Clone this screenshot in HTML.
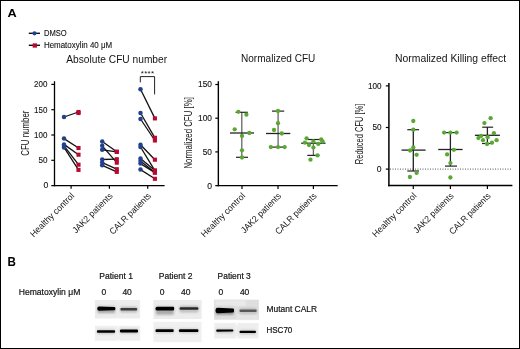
<!DOCTYPE html>
<html><head><meta charset="utf-8"><style>
html,body{margin:0;padding:0;background:#fff;}
#fig{position:relative;width:520px;height:349px;overflow:hidden;background:#fff;}
#fig svg{position:absolute;left:0;top:0;will-change:transform;}
#frame{position:absolute;left:0;top:0;width:518px;height:347px;border:1px solid #000;}
text{font-family:"Liberation Sans", sans-serif;}
</style></head><body>
<div id="fig">
<svg width="520" height="349" viewBox="0 0 520 349">
<text x="7.5" y="16.7" font-size="11.6" text-anchor="start" font-weight="bold" fill="#000" textLength="9.2" lengthAdjust="spacingAndGlyphs" >A</text>
<text x="7.4" y="266.0" font-size="12.8" text-anchor="start" font-weight="bold" fill="#000" textLength="8.4" lengthAdjust="spacingAndGlyphs" >B</text>
<line x1="28.8" y1="33.3" x2="40" y2="33.3" stroke="#111" stroke-width="1.4"/>
<circle cx="34.5" cy="33.3" r="2.1" fill="#22418c"/>
<text x="43.9" y="35.9" font-size="8.8" text-anchor="start" font-weight="normal" fill="#141414" textLength="22.8" lengthAdjust="spacingAndGlyphs" stroke="#141414" stroke-width="0.12">DMSO</text>
<line x1="28.8" y1="45.3" x2="40" y2="45.3" stroke="#111" stroke-width="1.4"/>
<rect x="32.65" y="43.35" width="4.3" height="4.3" fill="#b80a30"/>
<text x="43.9" y="47.8" font-size="8.8" text-anchor="start" font-weight="normal" fill="#141414" textLength="68.3" lengthAdjust="spacingAndGlyphs" stroke="#141414" stroke-width="0.12">Hematoxylin 40 μM</text>
<text x="66.3" y="62.6" font-size="10.3" text-anchor="start" font-weight="normal" fill="#141414" textLength="100.8" lengthAdjust="spacingAndGlyphs" >Absolute CFU number</text>
<line x1="54.5" y1="81.2" x2="54.5" y2="186.3" stroke="#000" stroke-width="1.3"/>
<line x1="51.3" y1="185.6" x2="164.6" y2="185.6" stroke="#000" stroke-width="1.4"/>
<text x="48.3" y="188.4" font-size="8.6" text-anchor="end" font-weight="normal" fill="#141414" stroke="#141414" stroke-width="0.12">0</text>
<line x1="51.3" y1="160.29999999999998" x2="54.5" y2="160.29999999999998" stroke="#000" stroke-width="1.2"/>
<text x="47.4" y="163.1" font-size="8.6" text-anchor="end" font-weight="normal" fill="#141414" textLength="9.0" lengthAdjust="spacingAndGlyphs" stroke="#141414" stroke-width="0.12">50</text>
<line x1="51.3" y1="135.0" x2="54.5" y2="135.0" stroke="#000" stroke-width="1.2"/>
<text x="47.4" y="137.8" font-size="8.6" text-anchor="end" font-weight="normal" fill="#141414" textLength="13.3" lengthAdjust="spacingAndGlyphs" stroke="#141414" stroke-width="0.12">100</text>
<line x1="51.3" y1="109.69999999999999" x2="54.5" y2="109.69999999999999" stroke="#000" stroke-width="1.2"/>
<text x="47.4" y="112.49999999999999" font-size="8.6" text-anchor="end" font-weight="normal" fill="#141414" textLength="13.3" lengthAdjust="spacingAndGlyphs" stroke="#141414" stroke-width="0.12">150</text>
<line x1="51.3" y1="84.39999999999999" x2="54.5" y2="84.39999999999999" stroke="#000" stroke-width="1.2"/>
<text x="47.4" y="87.19999999999999" font-size="8.6" text-anchor="end" font-weight="normal" fill="#141414" textLength="13.3" lengthAdjust="spacingAndGlyphs" stroke="#141414" stroke-width="0.12">200</text>
<line x1="71.1" y1="185.6" x2="71.1" y2="188.8" stroke="#000" stroke-width="1.2"/>
<line x1="109.4" y1="185.6" x2="109.4" y2="188.8" stroke="#000" stroke-width="1.2"/>
<line x1="147.7" y1="185.6" x2="147.7" y2="188.8" stroke="#000" stroke-width="1.2"/>
<polyline points="140.3,82.4 140.3,76.6 154.6,76.6 154.6,94.4" fill="none" stroke="#222" stroke-width="1"/>
<text x="147.6" y="76.4" font-size="8" text-anchor="middle" font-weight="normal" fill="#141414" letter-spacing="0.3">****</text>
<rect x="76.45" y="110.95" width="4.1" height="4.1" fill="#b80a30"/>
<line x1="64.0" y1="117" x2="78.5" y2="112" stroke="#111" stroke-width="1.3"/>
<line x1="64.0" y1="138.6" x2="78.5" y2="148" stroke="#111" stroke-width="1.3"/>
<line x1="64.0" y1="144.4" x2="78.5" y2="154.7" stroke="#111" stroke-width="1.3"/>
<line x1="64.0" y1="145.8" x2="78.5" y2="164.7" stroke="#111" stroke-width="1.3"/>
<line x1="64.0" y1="147.4" x2="78.5" y2="169.9" stroke="#111" stroke-width="1.3"/>
<circle cx="64.0" cy="117" r="2.25" fill="#22418c"/>
<circle cx="64.0" cy="138.6" r="2.25" fill="#22418c"/>
<circle cx="64.0" cy="144.4" r="2.25" fill="#22418c"/>
<circle cx="64.0" cy="145.8" r="2.25" fill="#22418c"/>
<circle cx="64.0" cy="147.4" r="2.25" fill="#22418c"/>
<rect x="76.45" y="109.95" width="4.1" height="4.1" fill="#b80a30"/>
<rect x="76.45" y="145.95" width="4.1" height="4.1" fill="#b80a30"/>
<rect x="76.45" y="152.64999999999998" width="4.1" height="4.1" fill="#b80a30"/>
<rect x="76.45" y="162.64999999999998" width="4.1" height="4.1" fill="#b80a30"/>
<rect x="76.45" y="167.85" width="4.1" height="4.1" fill="#b80a30"/>
<line x1="102.2" y1="141.5" x2="116.8" y2="151.8" stroke="#111" stroke-width="1.3"/>
<line x1="102.2" y1="145.8" x2="116.8" y2="162.7" stroke="#111" stroke-width="1.3"/>
<line x1="102.2" y1="149.8" x2="116.8" y2="151.8" stroke="#111" stroke-width="1.3"/>
<line x1="102.2" y1="159.5" x2="116.8" y2="159.2" stroke="#111" stroke-width="1.3"/>
<line x1="102.2" y1="162.6" x2="116.8" y2="169.2" stroke="#111" stroke-width="1.3"/>
<line x1="102.2" y1="165.3" x2="116.8" y2="171.9" stroke="#111" stroke-width="1.3"/>
<circle cx="102.2" cy="141.5" r="2.25" fill="#22418c"/>
<circle cx="102.2" cy="145.8" r="2.25" fill="#22418c"/>
<circle cx="102.2" cy="149.8" r="2.25" fill="#22418c"/>
<circle cx="102.2" cy="159.5" r="2.25" fill="#22418c"/>
<circle cx="102.2" cy="162.6" r="2.25" fill="#22418c"/>
<circle cx="102.2" cy="165.3" r="2.25" fill="#22418c"/>
<rect x="114.75" y="149.75" width="4.1" height="4.1" fill="#b80a30"/>
<rect x="114.75" y="160.64999999999998" width="4.1" height="4.1" fill="#b80a30"/>
<rect x="114.75" y="149.75" width="4.1" height="4.1" fill="#b80a30"/>
<rect x="114.75" y="157.14999999999998" width="4.1" height="4.1" fill="#b80a30"/>
<rect x="114.75" y="167.14999999999998" width="4.1" height="4.1" fill="#b80a30"/>
<rect x="114.75" y="169.85" width="4.1" height="4.1" fill="#b80a30"/>
<line x1="140.5" y1="89.3" x2="154.9" y2="118.4" stroke="#111" stroke-width="1.3"/>
<line x1="140.5" y1="113" x2="154.9" y2="137.8" stroke="#111" stroke-width="1.3"/>
<line x1="140.5" y1="119" x2="154.9" y2="140.5" stroke="#111" stroke-width="1.3"/>
<line x1="140.5" y1="144.7" x2="154.9" y2="159.7" stroke="#111" stroke-width="1.3"/>
<line x1="140.5" y1="147" x2="154.9" y2="170.6" stroke="#111" stroke-width="1.3"/>
<line x1="140.5" y1="158.4" x2="154.9" y2="170.6" stroke="#111" stroke-width="1.3"/>
<line x1="140.5" y1="161" x2="154.9" y2="172.6" stroke="#111" stroke-width="1.3"/>
<line x1="140.5" y1="163.6" x2="154.9" y2="172.6" stroke="#111" stroke-width="1.3"/>
<line x1="140.5" y1="169.6" x2="154.9" y2="178.8" stroke="#111" stroke-width="1.3"/>
<circle cx="140.5" cy="89.3" r="2.25" fill="#22418c"/>
<circle cx="140.5" cy="113" r="2.25" fill="#22418c"/>
<circle cx="140.5" cy="119" r="2.25" fill="#22418c"/>
<circle cx="140.5" cy="144.7" r="2.25" fill="#22418c"/>
<circle cx="140.5" cy="147" r="2.25" fill="#22418c"/>
<circle cx="140.5" cy="158.4" r="2.25" fill="#22418c"/>
<circle cx="140.5" cy="161" r="2.25" fill="#22418c"/>
<circle cx="140.5" cy="163.6" r="2.25" fill="#22418c"/>
<circle cx="140.5" cy="169.6" r="2.25" fill="#22418c"/>
<rect x="152.85" y="116.35000000000001" width="4.1" height="4.1" fill="#b80a30"/>
<rect x="152.85" y="135.75" width="4.1" height="4.1" fill="#b80a30"/>
<rect x="152.85" y="138.45" width="4.1" height="4.1" fill="#b80a30"/>
<rect x="152.85" y="157.64999999999998" width="4.1" height="4.1" fill="#b80a30"/>
<rect x="152.85" y="168.54999999999998" width="4.1" height="4.1" fill="#b80a30"/>
<rect x="152.85" y="168.54999999999998" width="4.1" height="4.1" fill="#b80a30"/>
<rect x="152.85" y="170.54999999999998" width="4.1" height="4.1" fill="#b80a30"/>
<rect x="152.85" y="170.54999999999998" width="4.1" height="4.1" fill="#b80a30"/>
<rect x="152.85" y="176.75" width="4.1" height="4.1" fill="#b80a30"/>
<text x="0" y="0" font-size="9" text-anchor="end" fill="#141414" textLength="58.4" lengthAdjust="spacingAndGlyphs" transform="translate(70.89999999999999,192.4) rotate(-45) translate(0,5.7)">Healthy control</text>
<text x="0" y="0" font-size="9" text-anchor="end" fill="#141414" textLength="52.8" lengthAdjust="spacingAndGlyphs" transform="translate(109.2,192.4) rotate(-45) translate(0,5.7)">JAK2 patients</text>
<text x="0" y="0" font-size="9" text-anchor="end" fill="#141414" textLength="54.5" lengthAdjust="spacingAndGlyphs" transform="translate(147.5,192.4) rotate(-45) translate(0,5.7)">CALR patients</text>
<text x="0" y="0" font-size="10.6" text-anchor="middle" fill="#141414" textLength="45.2" lengthAdjust="spacingAndGlyphs" transform="translate(29.2,133.2) rotate(-90)">CFU number</text>
<text x="241.0" y="62.0" font-size="10.2" text-anchor="start" font-weight="normal" fill="#141414" textLength="74.3" lengthAdjust="spacingAndGlyphs" >Normalized CFU</text>
<line x1="218.35" y1="81.2" x2="218.35" y2="186.3" stroke="#000" stroke-width="1.4"/>
<line x1="215.3" y1="185.6" x2="337.7" y2="185.6" stroke="#000" stroke-width="1.4"/>
<text x="212.0" y="188.5" font-size="8.6" text-anchor="end" font-weight="normal" fill="#141414" stroke="#141414" stroke-width="0.12">0</text>
<line x1="215.3" y1="151.89999999999998" x2="218.35" y2="151.89999999999998" stroke="#000" stroke-width="1.2"/>
<text x="212.0" y="154.79999999999998" font-size="8.6" text-anchor="end" font-weight="normal" fill="#141414" textLength="9.3" lengthAdjust="spacingAndGlyphs" stroke="#141414" stroke-width="0.12">50</text>
<line x1="215.3" y1="118.19999999999999" x2="218.35" y2="118.19999999999999" stroke="#000" stroke-width="1.2"/>
<text x="212.0" y="121.1" font-size="8.6" text-anchor="end" font-weight="normal" fill="#141414" textLength="14.0" lengthAdjust="spacingAndGlyphs" stroke="#141414" stroke-width="0.12">100</text>
<line x1="215.3" y1="84.49999999999999" x2="218.35" y2="84.49999999999999" stroke="#000" stroke-width="1.2"/>
<text x="212.0" y="87.39999999999999" font-size="8.6" text-anchor="end" font-weight="normal" fill="#141414" textLength="14.0" lengthAdjust="spacingAndGlyphs" stroke="#141414" stroke-width="0.12">150</text>
<line x1="242" y1="185.6" x2="242" y2="189" stroke="#000" stroke-width="1.2"/>
<line x1="278" y1="185.6" x2="278" y2="189" stroke="#000" stroke-width="1.2"/>
<line x1="313.4" y1="185.6" x2="313.4" y2="189" stroke="#000" stroke-width="1.2"/>
<text x="0" y="0" font-size="10.6" text-anchor="middle" fill="#141414" textLength="71.4" lengthAdjust="spacingAndGlyphs" transform="translate(192.2,132.9) rotate(-90)">Normalized CFU [%]</text>
<line x1="241.8" y1="112.3" x2="241.8" y2="157.3" stroke="#666" stroke-width="1.3"/>
<line x1="235.6" y1="112.3" x2="247.8" y2="112.3" stroke="#222" stroke-width="1.2"/>
<line x1="236" y1="157.3" x2="248" y2="157.3" stroke="#222" stroke-width="1.2"/>
<line x1="230" y1="133" x2="254" y2="133" stroke="#222" stroke-width="1.3"/>
<circle cx="238.4" cy="111.8" r="2.15" fill="#5aa833"/>
<circle cx="246.4" cy="114.7" r="2.15" fill="#5aa833"/>
<circle cx="234.7" cy="129.3" r="2.15" fill="#5aa833"/>
<circle cx="249.3" cy="133" r="2.15" fill="#5aa833"/>
<circle cx="242" cy="135.9" r="2.15" fill="#5aa833"/>
<circle cx="242" cy="150.3" r="2.15" fill="#5aa833"/>
<circle cx="242" cy="157.5" r="2.15" fill="#5aa833"/>
<line x1="278.1" y1="111.1" x2="278.1" y2="147.1" stroke="#666" stroke-width="1.3"/>
<line x1="272" y1="111.1" x2="284.2" y2="111.1" stroke="#222" stroke-width="1.2"/>
<line x1="272" y1="147.1" x2="284" y2="147.1" stroke="#222" stroke-width="1.2"/>
<line x1="266" y1="133.5" x2="290.3" y2="133.5" stroke="#222" stroke-width="1.3"/>
<circle cx="278" cy="111" r="2.15" fill="#5aa833"/>
<circle cx="278" cy="123.2" r="2.15" fill="#5aa833"/>
<circle cx="274" cy="130" r="2.15" fill="#5aa833"/>
<circle cx="281.8" cy="133.5" r="2.15" fill="#5aa833"/>
<circle cx="270.8" cy="147.1" r="2.15" fill="#5aa833"/>
<circle cx="278" cy="147.1" r="2.15" fill="#5aa833"/>
<circle cx="284.7" cy="147.1" r="2.15" fill="#5aa833"/>
<line x1="313.4" y1="139.5" x2="313.4" y2="155.4" stroke="#666" stroke-width="1.3"/>
<line x1="307.3" y1="139.5" x2="320.7" y2="139.5" stroke="#222" stroke-width="1.2"/>
<line x1="307.3" y1="155.4" x2="319.5" y2="155.4" stroke="#222" stroke-width="1.2"/>
<line x1="301.2" y1="143.2" x2="325.5" y2="143.2" stroke="#222" stroke-width="1.3"/>
<circle cx="306.6" cy="138.3" r="2.15" fill="#5aa833"/>
<circle cx="321.2" cy="139.5" r="2.15" fill="#5aa833"/>
<circle cx="322.6" cy="141.5" r="2.15" fill="#5aa833"/>
<circle cx="313.4" cy="141.5" r="2.15" fill="#5aa833"/>
<circle cx="304.9" cy="142.7" r="2.15" fill="#5aa833"/>
<circle cx="309" cy="145.1" r="2.15" fill="#5aa833"/>
<circle cx="318.3" cy="143.9" r="2.15" fill="#5aa833"/>
<circle cx="313.4" cy="147.6" r="2.15" fill="#5aa833"/>
<circle cx="317.5" cy="155.4" r="2.15" fill="#5aa833"/>
<circle cx="310.5" cy="159.7" r="2.15" fill="#5aa833"/>
<text x="0" y="0" font-size="9" text-anchor="end" fill="#141414" textLength="58.4" lengthAdjust="spacingAndGlyphs" transform="translate(241.8,192.4) rotate(-45) translate(0,5.7)">Healthy control</text>
<text x="0" y="0" font-size="9" text-anchor="end" fill="#141414" textLength="52.8" lengthAdjust="spacingAndGlyphs" transform="translate(277.8,192.4) rotate(-45) translate(0,5.7)">JAK2 patients</text>
<text x="0" y="0" font-size="9" text-anchor="end" fill="#141414" textLength="54.5" lengthAdjust="spacingAndGlyphs" transform="translate(313.2,192.4) rotate(-45) translate(0,5.7)">CALR patients</text>
<text x="395" y="62.0" font-size="10.2" text-anchor="start" font-weight="normal" fill="#141414" textLength="111.2" lengthAdjust="spacingAndGlyphs" >Normalized Killing effect</text>
<line x1="388.9" y1="83.0" x2="388.9" y2="186.2" stroke="#000" stroke-width="1.5"/>
<line x1="388.2" y1="185.5" x2="512.4" y2="185.5" stroke="#000" stroke-width="1.4"/>
<line x1="385.8" y1="169.1" x2="388.9" y2="169.1" stroke="#000" stroke-width="1.2"/>
<text x="381.6" y="172.0" font-size="8.6" text-anchor="end" font-weight="normal" fill="#141414" stroke="#141414" stroke-width="0.12">0</text>
<line x1="385.8" y1="127.5" x2="388.9" y2="127.5" stroke="#000" stroke-width="1.2"/>
<text x="381.6" y="130.4" font-size="8.6" text-anchor="end" font-weight="normal" fill="#141414" textLength="9.1" lengthAdjust="spacingAndGlyphs" stroke="#141414" stroke-width="0.12">50</text>
<line x1="385.8" y1="85.89999999999999" x2="388.9" y2="85.89999999999999" stroke="#000" stroke-width="1.2"/>
<text x="381.6" y="88.8" font-size="8.6" text-anchor="end" font-weight="normal" fill="#141414" textLength="13.6" lengthAdjust="spacingAndGlyphs" stroke="#141414" stroke-width="0.12">100</text>
<line x1="413.3" y1="185.5" x2="413.3" y2="189" stroke="#000" stroke-width="1.2"/>
<line x1="450.4" y1="185.5" x2="450.4" y2="189" stroke="#000" stroke-width="1.2"/>
<line x1="487.4" y1="185.5" x2="487.4" y2="189" stroke="#000" stroke-width="1.2"/>
<line x1="390" y1="169.1" x2="511" y2="169.1" stroke="#555" stroke-width="1" stroke-dasharray="1 1.5"/>
<text x="0" y="0" font-size="10.6" text-anchor="middle" fill="#141414" textLength="60.6" lengthAdjust="spacingAndGlyphs" transform="translate(362.8,133.9) rotate(-90)">Reduced CFU [%]</text>
<line x1="413.3" y1="129.7" x2="413.3" y2="171" stroke="#222" stroke-width="1.3"/>
<line x1="407.3" y1="129.7" x2="419.1" y2="129.7" stroke="#222" stroke-width="1.2"/>
<line x1="407.3" y1="171" x2="419" y2="171" stroke="#222" stroke-width="1.2"/>
<line x1="401.5" y1="150.1" x2="425.6" y2="150.1" stroke="#222" stroke-width="1.3"/>
<circle cx="413.3" cy="121" r="2.15" fill="#5aa833"/>
<circle cx="413.3" cy="129.7" r="2.15" fill="#5aa833"/>
<circle cx="413.3" cy="147.5" r="2.15" fill="#5aa833"/>
<circle cx="410.1" cy="150.5" r="2.15" fill="#5aa833"/>
<circle cx="416.6" cy="154.8" r="2.15" fill="#5aa833"/>
<circle cx="416.6" cy="172.9" r="2.15" fill="#5aa833"/>
<circle cx="409.9" cy="177" r="2.15" fill="#5aa833"/>
<line x1="450.4" y1="132.6" x2="450.4" y2="166.1" stroke="#222" stroke-width="1.3"/>
<line x1="445" y1="132.6" x2="457.2" y2="132.6" stroke="#222" stroke-width="1.2"/>
<line x1="445" y1="166.1" x2="457" y2="166.1" stroke="#222" stroke-width="1.2"/>
<line x1="438.2" y1="149.5" x2="462.6" y2="149.5" stroke="#222" stroke-width="1.3"/>
<circle cx="444.1" cy="132.6" r="2.15" fill="#5aa833"/>
<circle cx="450.4" cy="132.6" r="2.15" fill="#5aa833"/>
<circle cx="456.6" cy="132.6" r="2.15" fill="#5aa833"/>
<circle cx="453.9" cy="149.8" r="2.15" fill="#5aa833"/>
<circle cx="447.1" cy="154.4" r="2.15" fill="#5aa833"/>
<circle cx="450.4" cy="163.1" r="2.15" fill="#5aa833"/>
<circle cx="450.4" cy="177.5" r="2.15" fill="#5aa833"/>
<line x1="487.4" y1="127.2" x2="487.4" y2="143.5" stroke="#222" stroke-width="1.3"/>
<line x1="482.2" y1="127.2" x2="493.1" y2="127.2" stroke="#222" stroke-width="1.2"/>
<line x1="482" y1="143.5" x2="493" y2="143.5" stroke="#222" stroke-width="1.2"/>
<line x1="474.9" y1="135.3" x2="499.9" y2="135.3" stroke="#222" stroke-width="1.3"/>
<circle cx="490.6" cy="118.2" r="2.15" fill="#5aa833"/>
<circle cx="484.4" cy="123.1" r="2.15" fill="#5aa833"/>
<circle cx="493.9" cy="133.2" r="2.15" fill="#5aa833"/>
<circle cx="481.1" cy="135.9" r="2.15" fill="#5aa833"/>
<circle cx="487.6" cy="137.2" r="2.15" fill="#5aa833"/>
<circle cx="478.4" cy="138.1" r="2.15" fill="#5aa833"/>
<circle cx="483" cy="140.2" r="2.15" fill="#5aa833"/>
<circle cx="496.6" cy="140.2" r="2.15" fill="#5aa833"/>
<circle cx="487.1" cy="144" r="2.15" fill="#5aa833"/>
<circle cx="492" cy="142.7" r="2.15" fill="#5aa833"/>
<text x="0" y="0" font-size="9" text-anchor="end" fill="#141414" textLength="58.4" lengthAdjust="spacingAndGlyphs" transform="translate(413.1,192.4) rotate(-45) translate(0,5.7)">Healthy control</text>
<text x="0" y="0" font-size="9" text-anchor="end" fill="#141414" textLength="52.8" lengthAdjust="spacingAndGlyphs" transform="translate(450.2,192.4) rotate(-45) translate(0,5.7)">JAK2 patients</text>
<text x="0" y="0" font-size="9" text-anchor="end" fill="#141414" textLength="54.5" lengthAdjust="spacingAndGlyphs" transform="translate(487.2,192.4) rotate(-45) translate(0,5.7)">CALR patients</text>
<text x="99.3" y="279.2" font-size="8.5" text-anchor="start" font-weight="normal" fill="#141414" textLength="33.7" lengthAdjust="spacingAndGlyphs" stroke="#141414" stroke-width="0.2">Patient 1</text>
<text x="158.7" y="279.2" font-size="8.5" text-anchor="start" font-weight="normal" fill="#141414" textLength="33.7" lengthAdjust="spacingAndGlyphs" stroke="#141414" stroke-width="0.2">Patient 2</text>
<text x="217.6" y="279.2" font-size="8.5" text-anchor="start" font-weight="normal" fill="#141414" textLength="33.2" lengthAdjust="spacingAndGlyphs" stroke="#141414" stroke-width="0.2">Patient 3</text>
<text x="18.7" y="295.4" font-size="8.5" text-anchor="start" font-weight="normal" fill="#141414" textLength="61.6" lengthAdjust="spacingAndGlyphs" stroke="#141414" stroke-width="0.2">Hematoxylin μM</text>
<text x="101.5" y="295.3" font-size="8.5" text-anchor="start" font-weight="normal" fill="#141414" stroke="#141414" stroke-width="0.2">0</text>
<text x="122.4" y="295.3" font-size="8.5" text-anchor="start" font-weight="normal" fill="#141414" stroke="#141414" stroke-width="0.2">40</text>
<text x="159.8" y="295.3" font-size="8.5" text-anchor="start" font-weight="normal" fill="#141414" stroke="#141414" stroke-width="0.2">0</text>
<text x="181.0" y="295.3" font-size="8.5" text-anchor="start" font-weight="normal" fill="#141414" stroke="#141414" stroke-width="0.2">40</text>
<text x="218.6" y="295.3" font-size="8.5" text-anchor="start" font-weight="normal" fill="#141414" stroke="#141414" stroke-width="0.2">0</text>
<text x="239.9" y="295.3" font-size="8.5" text-anchor="start" font-weight="normal" fill="#141414" stroke="#141414" stroke-width="0.2">40</text>
<text x="266.5" y="311.9" font-size="8.5" text-anchor="start" font-weight="normal" fill="#141414" textLength="50.5" lengthAdjust="spacingAndGlyphs" stroke="#141414" stroke-width="0.2">Mutant CALR</text>
<text x="266.5" y="333.2" font-size="8.5" text-anchor="start" font-weight="normal" fill="#141414" textLength="25.8" lengthAdjust="spacingAndGlyphs" stroke="#141414" stroke-width="0.2">HSC70</text>
<defs><filter id="bl" x="-20%" y="-100%" width="140%" height="300%"><feGaussianBlur stdDeviation="0.7"/></filter><filter id="bl2" x="-20%" y="-50%" width="140%" height="200%"><feGaussianBlur stdDeviation="1.2"/></filter></defs>
<defs><filter id="bl" x="-20%" y="-100%" width="140%" height="300%"><feGaussianBlur stdDeviation="0.95"/></filter><filter id="bs" x="-20%" y="-100%" width="140%" height="300%"><feGaussianBlur stdDeviation="1.3"/></filter><filter id="bg" x="-10%" y="-20%" width="120%" height="140%"><feGaussianBlur stdDeviation="0.6"/></filter></defs>
<rect x="94.9" y="300.0" width="45.19999999999999" height="18.399999999999977" fill="#ececec" opacity="1" filter="url(#bg)"/>
<rect x="117.8" y="299.5" width="1.0" height="2.5" fill="#f8f8f8" opacity="1" filter="url(#bg)"/>
<rect x="117.8" y="316.5" width="1.0" height="2.5" fill="#f8f8f8" opacity="1" filter="url(#bg)"/>
<rect x="94.9" y="325.8" width="45.29999999999998" height="15.0" fill="#f0f0f0" opacity="1" filter="url(#bg)"/>
<rect x="117.4" y="325.3" width="1.5999999999999943" height="2.1999999999999886" fill="#fafafa" opacity="1" filter="url(#bg)"/>
<rect x="117.4" y="339.0" width="1.5999999999999943" height="2.3000000000000114" fill="#fafafa" opacity="1" filter="url(#bg)"/>
<rect x="97.0" y="305.5" width="18.6" height="6.2" rx="2" fill="#d0d0d0" filter="url(#bs)"/>
<rect x="97.8" y="308.6" width="17.0" height="4.5" fill="#aaa" filter="url(#bs)"/>
<path d="M99.085,306.5 L114.3,306.90000000000003 Q115.3,306.90000000000003 115.3,307.90000000000003 L115.3,309.3 Q115.3,310.3 114.3,310.3 L99.085,310.70000000000005 Q97.3,310.70000000000005 97.3,308.915 L97.3,308.285 Q97.3,306.5 99.085,306.5 Z" fill="#000" filter="url(#bl)"/>
<rect x="120.10000000000001" y="306.8" width="17.399999999999984" height="5.0" rx="2" fill="#b8b8b8" filter="url(#bs)"/>
<rect x="120.9" y="309.3" width="15.799999999999983" height="3" fill="#c4c4c4" filter="url(#bs)"/>
<path d="M121.42,308.1 L136.2,308.1 Q137.2,308.1 137.2,309.1 L137.2,309.5 Q137.2,310.5 136.2,310.5 L121.42,310.5 Q120.4,310.5 120.4,309.48 L120.4,309.12 Q120.4,308.1 121.42,308.1 Z" fill="#3a3a3a" filter="url(#bl)"/>
<rect x="96.60000000000001" y="329.2" width="18.79999999999999" height="4.6" rx="2" fill="#d0d0d0" filter="url(#bs)"/>
<rect x="97.4" y="331.5" width="17.19999999999999" height="2" fill="#c8c8c8" filter="url(#bs)"/>
<path d="M98.00500000000001,330.2 L114.1,330.2 Q115.1,330.2 115.1,331.2 L115.1,331.8 Q115.1,332.8 114.1,332.8 L98.00500000000001,332.8 Q96.9,332.8 96.9,331.695 L96.9,331.305 Q96.9,330.2 98.00500000000001,330.2 Z" fill="#000" filter="url(#bl)"/>
<rect x="119.60000000000001" y="328.6" width="18.699999999999996" height="4.8" rx="2" fill="#d0d0d0" filter="url(#bs)"/>
<rect x="120.4" y="331.0" width="17.099999999999994" height="2" fill="#c8c8c8" filter="url(#bs)"/>
<path d="M121.09,329.6 L137.0,329.6 Q138.0,329.6 138.0,330.6 L138.0,331.4 Q138.0,332.4 137.0,332.4 L121.09,332.4 Q119.9,332.4 119.9,331.21 L119.9,330.79 Q119.9,329.6 121.09,329.6 Z" fill="#000" filter="url(#bl)"/>
<rect x="153.4" y="300.0" width="48.19999999999999" height="19.0" fill="#ececec" opacity="1" filter="url(#bg)"/>
<rect x="153.4" y="321.8" width="48.19999999999999" height="20.399999999999977" fill="#f0f0f0" opacity="1" filter="url(#bg)"/>
<rect x="155.2" y="305.8" width="19.199999999999996" height="5.8" rx="2" fill="#d0d0d0" filter="url(#bs)"/>
<rect x="156.0" y="308.7" width="17.599999999999994" height="6" fill="#aaa" filter="url(#bs)"/>
<path d="M157.115,306.8 L173.1,306.8 Q174.1,306.8 174.1,307.8 L174.1,309.59999999999997 Q174.1,310.59999999999997 173.1,310.59999999999997 L157.115,310.59999999999997 Q155.5,310.59999999999997 155.5,308.98499999999996 L155.5,308.415 Q155.5,306.8 157.115,306.8 Z" fill="#000" filter="url(#bl)"/>
<rect x="179.29999999999998" y="305.84999999999997" width="19.400000000000013" height="5.300000000000001" rx="2" fill="#b8b8b8" filter="url(#bs)"/>
<rect x="180.1" y="308.5" width="17.80000000000001" height="4" fill="#c4c4c4" filter="url(#bs)"/>
<path d="M180.7475,307.15 L197.4,307.15 Q198.4,307.15 198.4,308.15 L198.4,308.85 Q198.4,309.85 197.4,309.85 L180.7475,309.85 Q179.6,309.85 179.6,308.70250000000004 L179.6,308.29749999999996 Q179.6,307.15 180.7475,307.15 Z" fill="#2a2a2a" filter="url(#bl)"/>
<rect x="155.2" y="328.3" width="18.79999999999999" height="4.8" rx="2" fill="#d0d0d0" filter="url(#bs)"/>
<rect x="156.0" y="330.7" width="17.19999999999999" height="2" fill="#c8c8c8" filter="url(#bs)"/>
<path d="M156.69,329.3 L172.7,329.3 Q173.7,329.3 173.7,330.3 L173.7,331.09999999999997 Q173.7,332.09999999999997 172.7,332.09999999999997 L156.69,332.09999999999997 Q155.5,332.09999999999997 155.5,330.90999999999997 L155.5,330.49 Q155.5,329.3 156.69,329.3 Z" fill="#000" filter="url(#bl)"/>
<rect x="178.6" y="328.34999999999997" width="20.1" height="4.7" rx="2" fill="#d0d0d0" filter="url(#bs)"/>
<rect x="179.4" y="330.7" width="18.5" height="2" fill="#c8c8c8" filter="url(#bs)"/>
<path d="M180.0475,329.34999999999997 L197.4,329.34999999999997 Q198.4,329.34999999999997 198.4,330.34999999999997 L198.4,331.05 Q198.4,332.05 197.4,332.05 L180.0475,332.05 Q178.9,332.05 178.9,330.90250000000003 L178.9,330.49749999999995 Q178.9,329.34999999999997 180.0475,329.34999999999997 Z" fill="#000" filter="url(#bl)"/>
<rect x="214.1" y="299.7" width="44.70000000000002" height="20.0" fill="#dedede" opacity="1" filter="url(#bg)"/>
<rect x="215" y="300.3" width="31" height="5.699999999999989" fill="#eaeaea" opacity="1" filter="url(#bs)"/>
<rect x="237" y="313.5" width="21" height="5.5" fill="#e6e6e6" opacity="1" filter="url(#bs)"/>
<rect x="214.3" y="323.1" width="44.30000000000001" height="15.299999999999955" fill="#eeeeee" opacity="1" filter="url(#bg)"/>
<rect x="235.6" y="322.5" width="2.0" height="3.0" fill="#fafafa" opacity="1" filter="url(#bg)"/>
<rect x="235.6" y="336.0" width="2.0" height="3.0" fill="#fafafa" opacity="1" filter="url(#bg)"/>
<rect x="215.2" y="306.7" width="19.1" height="7.6" rx="2" fill="#d0d0d0" filter="url(#bs)"/>
<rect x="216.0" y="310.5" width="17.5" height="4" fill="#888" filter="url(#bs)"/>
<path d="M217.88,307.7 L233.0,308.5 Q234.0,308.5 234.0,309.5 L234.0,311.5 Q234.0,312.5 233.0,312.5 L217.88,313.3 Q215.5,313.3 215.5,310.92 L215.5,310.08 Q215.5,307.7 217.88,307.7 Z" fill="#000" filter="url(#bl)"/>
<rect x="239.2" y="308.1" width="17.79999999999999" height="5.4" rx="2" fill="#bdbdbd" filter="url(#bs)"/>
<rect x="240.0" y="310.8" width="16.19999999999999" height="3" fill="#c8c8c8" filter="url(#bs)"/>
<path d="M240.52,309.6 L255.7,309.6 Q256.7,309.6 256.7,310.6 L256.7,311.0 Q256.7,312.0 255.7,312.0 L240.52,312.0 Q239.5,312.0 239.5,310.98 L239.5,310.62 Q239.5,309.6 240.52,309.6 Z" fill="#5a5a5a" filter="url(#bl)"/>
<rect x="215.89999999999998" y="328.45000000000005" width="17.80000000000002" height="4.3" rx="2" fill="#d0d0d0" filter="url(#bs)"/>
<rect x="216.7" y="330.6" width="16.200000000000017" height="2" fill="#c8c8c8" filter="url(#bs)"/>
<path d="M217.17749999999998,329.45000000000005 L232.4,329.6 Q233.4,329.6 233.4,330.6 L233.4,330.6 Q233.4,331.6 232.4,331.6 L217.17749999999998,331.75 Q216.2,331.75 216.2,330.7725 L216.2,330.42750000000007 Q216.2,329.45000000000005 217.17749999999998,329.45000000000005 Z" fill="#000" filter="url(#bl)"/>
<rect x="239.2" y="329.65000000000003" width="17.1" height="4.3" rx="2" fill="#d0d0d0" filter="url(#bs)"/>
<rect x="240.0" y="331.8" width="15.5" height="2" fill="#c8c8c8" filter="url(#bs)"/>
<path d="M240.4775,330.65000000000003 L255.0,330.65000000000003 Q256.0,330.65000000000003 256.0,331.65000000000003 L256.0,331.95 Q256.0,332.95 255.0,332.95 L240.4775,332.95 Q239.5,332.95 239.5,331.97249999999997 L239.5,331.62750000000005 Q239.5,330.65000000000003 240.4775,330.65000000000003 Z" fill="#000" filter="url(#bl)"/>
</svg>
<div id="frame"></div>
</div>
</body></html>
